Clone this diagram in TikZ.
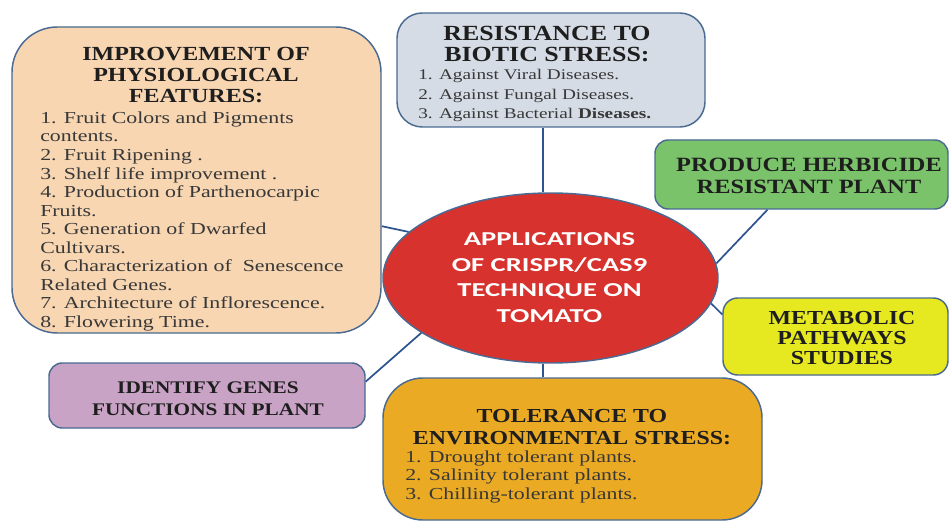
\documentclass[tikz,border=0pt]{standalone}
\usepackage{fontspec}
\usepackage{tikz}
\usetikzlibrary{shapes.geometric}
\newfontfamily\headfont[FakeStretch=1.2]{Liberation Serif}
\newfontfamily\itemfont[FakeStretch=1.3]{Liberation Serif}
\newfontfamily\centrefont[FakeStretch=1.45]{Carlito}
\definecolor{boxline}{HTML}{4A6A92}
\definecolor{linkline}{HTML}{2F5590}
\definecolor{peach}{HTML}{F8D6B2}
\definecolor{greyblue}{HTML}{D6DCE5}
\definecolor{leaf}{HTML}{7AC36A}
\definecolor{lemon}{HTML}{E6E820}
\definecolor{mauve}{HTML}{C9A3C6}
\definecolor{amber}{HTML}{EBAA23}
\definecolor{tomato}{HTML}{D7322D}
\definecolor{headtext}{HTML}{1E1E1E}
\definecolor{itemtext}{HTML}{383838}
\tikzset{
  box/.style={draw=boxline, line width=1.1pt, inner sep=0pt},
  head/.style 2 args={font=\headfont\bfseries\fontsize{#1}{#2}\selectfont, align=center, inner sep=0pt, text=headtext},
  items/.style 2 args={font=\itemfont\fontsize{#1}{#2}\selectfont, align=left, inner sep=0pt, text=itemtext, anchor=north west},
  link/.style={draw=linkline, line width=1.3pt}
}

\begin{document}
\begin{tikzpicture}[x=0.75pt,y=-0.75pt]
\useasboundingbox (0,0) rectangle (950,524);

\node[box, fill=peach, rounded corners=34pt, minimum width=276.75pt, minimum height=229.5pt] (phys) at (196.5,180) {};
\node[box, fill=greyblue, rounded corners=19pt, minimum width=231pt, minimum height=85.5pt] (biotic) at (551,70) {};
\node[box, fill=leaf, rounded corners=10pt, minimum width=219.75pt, minimum height=51.75pt] (herb) at (801.5,174.5) {};
\node[box, fill=lemon, rounded corners=11pt, minimum width=168.75pt, minimum height=57.75pt] (meta) at (835.5,336.5) {};
\node[box, fill=mauve, rounded corners=10pt, minimum width=237pt, minimum height=48.75pt] (genes) at (207,395.5) {};
\node[box, fill=amber, rounded corners=30pt, minimum width=284.25pt, minimum height=106.5pt] (tol) at (572.5,449) {};
\node[box, ellipse, fill=tomato, minimum width=251.25pt, minimum height=127.5pt] (app) at (550.5,278) {};

\node[head={15}{15.4}] (physhead) at (196,75) {IMPROVEMENT OF\\PHYSIOLOGICAL\\FEATURES:};
\node[items={12.6}{13.9}] (physlist) at (40,111.5) {1. Fruit Colors and Pigments\\contents.\\2. Fruit Ripening .\\3. Shelf life improvement .\\4. Production of Parthenocarpic\\Fruits.\\5. Generation of Dwarfed\\Cultivars.\\6. Characterization of~ Senescence\\Related Genes.\\7. Architecture of Inflorescence.\\8. Flowering Time.};

\node[head={16.2}{16.2}] (biohead) at (547,44) {RESISTANCE TO\\BIOTIC STRESS:};
\node[items={11.1}{14.6}] (biolist) at (418,69) {1. Against Viral Diseases.\\2. Against Fungal Diseases.\\3. Against Bacterial \textbf{Diseases.}};

\node[head={15.2}{16.5}] (herbhead) at (809,175.5) {PRODUCE HERBICIDE\\RESISTANT PLANT};
\node[head={14.9}{15}] (metahead) at (842,338.5) {METABOLIC\\PATHWAYS\\STUDIES};
\node[head={13.3}{16.1}] (geneshead) at (208,398.5) {IDENTIFY GENES\\FUNCTIONS IN PLANT};

\node[head={14.9}{16.5}] (tolhead) at (572,427.5) {TOLERANCE TO\\ENVIRONMENTAL STRESS:};
\node[items={12.6}{13.9}] (tollist) at (405,450.5) {1. Drought tolerant plants.\\2. Salinity tolerant plants.\\3. Chilling-tolerant plants.};

\node[font=\centrefont\bfseries\fontsize{14.8}{19.3}\selectfont, text=white, align=center, inner sep=0pt] (apptext) at (549.5,277.5) {APPLICATIONS\\OF CRISPR/CAS9\\TECHNIQUE ON\\TOMATO};

\draw[link] (app.95) -- (app.95 |- biotic.south);
\draw[link] (app.265) -- (app.265 |- tol.north);
\draw[link] (phys.-14) -- (app.162);
\draw[link] (genes.5) -- (app.203);
\draw[link] (herb.226) -- (app.5);
\draw[link] (meta.169) -- (app.-9);
\end{tikzpicture}
\end{document}
